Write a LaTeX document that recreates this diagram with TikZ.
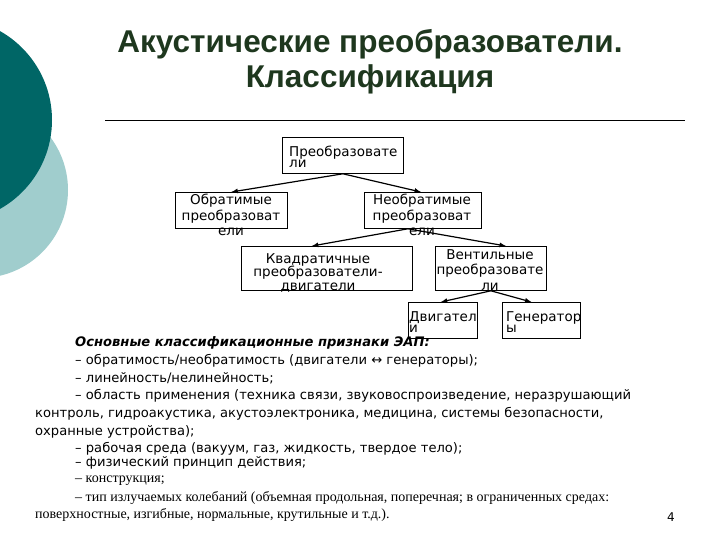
\documentclass[tikz,border=0pt]{standalone}
\usepackage{fontspec}
\setmainfont{DejaVu Sans}
\newfontfamily\titlef{Liberation Sans}
\newfontfamily\serf{Liberation Serif}
\begin{document}
\begin{tikzpicture}[x=1pt,y=-1pt,
  bx/.style={draw,line width=0.8pt,inner sep=0pt,anchor=north west},
  tx/.style={font=\fontsize{13.5}{15.5}\selectfont,align=center,inner sep=0pt},
  arr/.style={-latex,line width=1.2pt},
  ln/.style={anchor=west,inner sep=0pt,font=\fontsize{13.1}{15}\selectfont},
  sl/.style={anchor=west,inner sep=0pt,font=\serf\fontsize{14}{16}\selectfont}]
\useasboundingbox (0,0) rectangle (720,540);
\fill[fill={rgb,255:red,160;green,205;blue,205}] (-20,190) circle (88);
\fill[fill={rgb,255:red,0;green,102;blue,102}] (-50,120) circle (102);
\node[font=\titlef\bfseries\fontsize{31.5}{35}\selectfont,align=center,text={rgb,255:red,30;green,55;blue,30}] (title) at (370,62) {Акустические преобразователи.\\Классификация};
\draw[line width=0.6pt] (105,120) coordinate (r1) -- (685,120) coordinate (r2);
\node[bx,minimum width=121,minimum height=36] (p) at (282,137) {};
\node[tx,anchor=north west] at (289,145) {\begin{tabular}{@{}l@{}}Преобразовате\\[-4pt]ли\end{tabular}};
\node[bx,minimum width=112,minimum height=36] (o) at (175,192) {};
\node[tx,anchor=north] at (231,194) {Обратимые\\преобразоват\\ели};
\node[bx,minimum width=117,minimum height=36] (n) at (364,192) {};
\node[tx,anchor=north] at (422,194) {Необратимые\\преобразоват\\ели};
\node[bx,minimum width=171,minimum height=44] (k) at (241,246) {};
\node[tx,anchor=north] at (318,252) {\begin{tabular}{@{}c@{}}Квадратичные\\[-2pt]преобразователи-\\[-2pt]двигатели\end{tabular}};
\node[bx,minimum width=111,minimum height=44] (v) at (435,246) {};
\node[tx,anchor=north] at (490,249) {Вентильные\\преобразовате\\ли};
\node[bx,minimum width=69,minimum height=36] (d) at (408,302) {};
\node[tx,anchor=north west] at (409,310) {\begin{tabular}{@{}l@{}}Двигател\\[-4pt]и\end{tabular}};
\node[bx,minimum width=78,minimum height=36] (g) at (502,302) {};
\node[tx,anchor=north west] at (506,310) {\begin{tabular}{@{}l@{}}Генератор\\[-4pt]ы\end{tabular}};
\draw[arr] (p.south) -- (o.north);
\draw[arr] (p.south) -- ([xshift=-2]n.north);
\draw[arr] ([xshift=-15]n.south) -- ([xshift=-15]k.north);
\draw[arr] ([xshift=-15]n.south) -- ([xshift=15]v.north);
\draw[arr] ([xshift=0]v.south) -- ([xshift=-2]d.north);
\draw[arr] ([xshift=0]v.south) -- ([xshift=-10]g.north);
\node[ln,font=\bfseries\itshape\fontsize{13.1}{15}\selectfont] (l1) at (75,343) {Основные классификационные признаки ЭАП:};
\node[ln] (l2) at (75,361) {– обратимость/необратимость (двигатели ↔ генераторы);};
\node[ln] (l3) at (75,378) {– линейность/нелинейность;};
\node[ln] (l4) at (75,396) {– область применения (техника связи, звуковоспроизведение, неразрушающий};
\node[ln] (l5) at (35,414) {контроль, гидроакустика, акустоэлектроника, медицина, системы безопасности,};
\node[ln] (l6) at (35,432) {охранные устройства);};
\node[ln] (l7) at (75,449) {– рабочая среда (вакуум, газ, жидкость, твердое тело);};
\node[ln] (l8) at (75,463) {– физический принцип действия;};
\node[sl] (l9) at (75,481) {– конструкция;};
\node[sl] (l10) at (75,498) {– тип излучаемых колебаний (объемная продольная, поперечная; в ограниченных средах:};
\node[sl] (l11) at (35,515) {поверхностные, изгибные, нормальные, крутильные и т.д.).};
\node[sl,font=\fontsize{12}{14}\selectfont] (pn) at (667,517) {4};
\end{tikzpicture}
\end{document}
